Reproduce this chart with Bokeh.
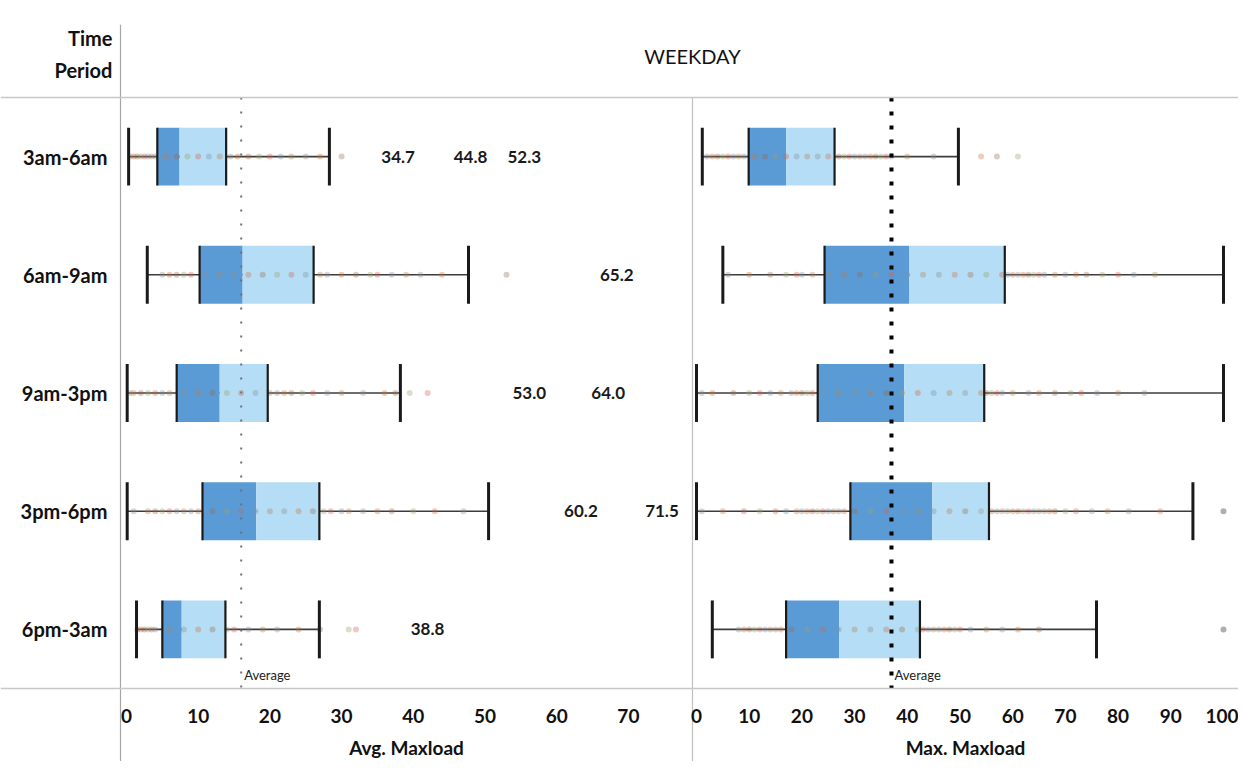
from bokeh.plotting import figure
from bokeh.models import (FactorRange, Range1d, LinearAxis, CategoricalAxis,
                          FixedTicker, Span, ColumnDataSource)
from bokeh.core.properties import value
from bokeh.embed import file_html
from bokeh.resources import INLINE

# ---------------- data ----------------
periods = ["3am-6am", "6am-9am", "9am-3pm", "3pm-6pm", "6pm-3am"]

# Avg. Maxload box statistics
avg_min = [0.3, 2.9, 0.1, 0.1, 1.4]
avg_q1 = [4.3, 10.2, 7.0, 10.6, 5.0]
avg_med = [7.4, 16.2, 13.0, 18.1, 7.7]
avg_q3 = [13.9, 26.1, 19.7, 26.9, 13.8]
avg_max = [28.3, 47.7, 38.2, 50.5, 26.9]
avg_mean = 16.0
avg_ticks = [0, 10, 20, 30, 40, 50, 60, 70]

# labelled outlier values (Avg. Maxload)
avg_label_period = ["3am-6am", "3am-6am", "3am-6am", "6am-9am", "9am-3pm",
                    "9am-3pm", "3pm-6pm", "3pm-6pm", "6pm-3am"]
avg_label_value = [34.7, 44.8, 52.3, 65.2, 53.0, 64.0, 60.2, 71.5, 38.8]

# Max. Maxload box statistics
max_min = [1.1, 5.0, 0.0, 0.0, 3.0]
max_q1 = [9.9, 24.3, 23.0, 29.2, 17.0]
max_med = [17.0, 40.4, 39.4, 44.7, 27.1]
max_q3 = [26.2, 58.5, 54.6, 55.5, 42.4]
max_max = [49.7, 100.0, 100.0, 94.2, 75.9]
max_mean = 37.0
max_ticks = [0, 10, 20, 30, 40, 50, 60, 70, 80, 90, 100]
max_outlier_period = ["3pm-6pm", "6pm-3am"]
max_outlier_value = [100.0, 100.0]

# individual observations visible along each row
avg_pts_3am_6am = [0.5, 1, 1.5, 2, 2.5, 3, 3.5, 4, 5.5, 7, 8.5, 10, 11.5, 13,
                   14.5, 15.5, 17, 18.5, 20, 21.5, 23, 25, 27, 30]
avg_pts_6am_9am = [5, 6, 7, 8, 9, 11, 13, 15, 17, 19, 21, 23, 25, 27, 28, 30,
                   32, 34, 35, 37, 39, 41, 44, 53]
avg_pts_9am_3pm = [0.5, 1, 2, 3, 4, 5, 6, 8, 10, 12, 14, 16, 18, 20, 21, 22,
                   23, 24.5, 26, 28, 30, 33, 36, 37.5, 39.5, 42]
avg_pts_3pm_6pm = [1, 3, 4, 5, 6, 7, 8, 9, 10, 12, 14, 16, 18, 20, 22, 24, 26,
                   27.5, 28.5, 30, 31, 33, 35, 37, 40, 43, 47]
avg_pts_6pm_3am = [1.5, 2, 2.5, 3, 3.5, 4, 6, 8, 10, 12, 14, 15, 17, 19, 21,
                   24, 27, 31, 32]

max_pts_3am_6am = [2, 3, 4, 5, 6, 7, 8, 9, 11, 13, 15, 17, 19, 21, 23, 25, 27,
                   28, 29, 30, 31, 32, 33, 34, 35, 36, 37, 40, 45, 54, 57, 61]
max_pts_6am_9am = [6, 10, 14, 17, 19, 20, 22, 25, 28, 31, 34, 37, 40, 43, 46,
                   49, 52, 55, 58, 59, 60, 61, 62, 63, 64, 65, 66, 68, 70, 72,
                   74, 77, 80, 83, 87]
max_pts_9am_3pm = [1, 3, 7, 10, 12, 14, 16, 18, 19, 20, 21, 22, 24, 27, 30, 33,
                   36, 39, 42, 45, 48, 51, 54, 55, 56, 57, 58, 60, 63, 65, 68,
                   71, 73, 76, 80, 85]
max_pts_3pm_6pm = [1, 5, 9, 12, 15, 17, 19, 20, 21, 22, 23, 24, 25, 26, 27, 28,
                   30, 33, 36, 39, 42, 45, 48, 51, 54, 56, 57, 58, 59, 60, 61,
                   62, 63, 64, 65, 66, 67, 68, 70, 72, 75, 78, 82, 88]
max_pts_6pm_3am = [8, 9, 10, 11, 12, 13, 14, 15, 16, 18, 21, 24, 27, 30, 33,
                   36, 39, 42, 43, 44, 45, 46, 47, 48, 49, 50, 52, 55, 58, 61,
                   65]

# ---------------- layout / style constants ----------------
FONT = "Lato"
DARK_BLUE = "#5b9bd5"
LIGHT_BLUE = "#b5def6"
LEFT_RANGE = (-17.57, 155.09)    # Avg. Maxload units across the canvas
RIGHT_RANGE = (-132.07, 102.85)  # Max. Maxload units across the canvas
LEFT_EDGE = -0.84        # left panel border, in Avg. Maxload units
LEFT_PANEL_END = 78.94   # panel divider, in Avg. Maxload units
RIGHT_EDGE = -0.76       # panel divider, in Max. Maxload units
PAD = 0.6176             # header / footer room, in row units
DOT_COLORS = ["#8c8c8c", "#c8763c", "#9c6a4a", "#9aa06a", "#d0604f",
              "#7f8fa0", "#b08050"]

p = figure(width=1238, height=761,
           x_range=Range1d(*LEFT_RANGE),
           y_range=FactorRange(factors=periods[::-1], range_padding=PAD,
                               range_padding_units="absolute"),
           x_axis_type=None, y_axis_type=None,
           toolbar_location=None, output_backend="svg",
           min_border_left=0, min_border_right=0, min_border_top=24,
           min_border_bottom=0, outline_line_color=None, title=None)
p.extra_x_ranges = {"right": Range1d(*RIGHT_RANGE)}
p.background_fill_color = "white"
p.border_fill_color = "white"

# horizontal rules (top of rows, bottom of rows)
for loc in (0, len(periods)):
    p.add_layout(Span(location=loc, dimension="width", line_color="#c8c8c8",
                      line_width=1.5))

# panel divider
p.segment(x0=[RIGHT_EDGE], x1=[RIGHT_EDGE], y0=[(periods[0], 0.5)],
          y1=[(periods[-1], -0.5 - PAD - 0.2)], x_range_name="right",
          line_color="#c0c0c0", line_width=1.2)


def draw_panel(mins, q1s, meds, q3s, maxs, pts_lists, range_name):
    kw = {} if range_name is None else {"x_range_name": range_name}
    src = ColumnDataSource(dict(
        period=periods, mn=mins, q1=q1s, med=meds, q3=q3s, mx=maxs,
        top=[(c, 0.245) for c in periods], bot=[(c, -0.245) for c in periods]))
    # whisker line
    p.segment(x0="mn", x1="mx", y0="period", y1="period", source=src,
              line_color="#3c3c3c", line_width=1.6, **kw)
    # box halves
    p.hbar(y="period", left="q1", right="med", height=0.49, source=src,
           fill_color=DARK_BLUE, line_color=None, **kw)
    p.hbar(y="period", left="med", right="q3", height=0.49, source=src,
           fill_color=LIGHT_BLUE, line_color=None, **kw)
    # observations
    xs, ys, cs = [], [], []
    for per, pts in zip(periods, pts_lists):
        for i, v in enumerate(pts):
            xs.append(v)
            ys.append(per)
            cs.append(DOT_COLORS[i % len(DOT_COLORS)])
    p.scatter(x=xs, y=ys, color=cs, size=6, alpha=0.35, line_color=None, **kw)
    # box edges and whisker caps
    for col, w in (("q1", 2.2), ("q3", 2.2), ("mn", 3), ("mx", 3)):
        p.segment(x0=col, x1=col, y0="bot", y1="top", source=src,
                  line_color="#1a1a1a", line_width=w, **kw)


draw_panel(avg_min, avg_q1, avg_med, avg_q3, avg_max,
           [avg_pts_3am_6am, avg_pts_6am_9am, avg_pts_9am_3pm,
            avg_pts_3pm_6pm, avg_pts_6pm_3am], None)
draw_panel(max_min, max_q1, max_med, max_q3, max_max,
           [max_pts_3am_6am, max_pts_6am_9am, max_pts_9am_3pm,
            max_pts_3pm_6pm, max_pts_6pm_3am], "right")

# max outliers
p.scatter(x=max_outlier_value, y=max_outlier_period, x_range_name="right",
          size=6, color="#9a9a9a", alpha=0.8, line_color=None)

# outlier value labels
p.text(x=avg_label_value, y=avg_label_period,
       text=[f"{v:.1f}" for v in avg_label_value],
       text_font=value(FONT), text_font_size="17px", text_font_style="bold",
       text_color="#1a1a1a", text_align="left", text_baseline="middle",
       x_offset=6)

# average lines
p.segment(x0=[avg_mean], x1=[avg_mean], y0=[(periods[0], 0.5)],
          y1=[(periods[-1], -0.5)], line_color="#707070", line_width=2,
          line_dash="2 12")
p.segment(x0=[max_mean], x1=[max_mean], y0=[(periods[0], 0.5)],
          y1=[(periods[-1], -0.5)], line_color="#000000", line_width=4,
          line_dash="4 10", x_range_name="right")
for mean, rn in ((avg_mean, None), (max_mean, "right")):
    kw = {} if rn is None else {"x_range_name": rn}
    p.text(x=[mean], y=[(periods[-1], -0.39)], text=["Average"],
           text_font=value(FONT), text_font_size="13px", text_color="#222222",
           text_align="left", text_baseline="middle", x_offset=3, **kw)

# header
p.text(x=[RIGHT_EDGE], y=[(periods[0], 0.855)], text=["WEEKDAY"],
       x_range_name="right", text_font=value(FONT), text_font_size="20px",
       text_color="#111111", text_align="center", text_baseline="middle")
p.text(x=[LEFT_EDGE, LEFT_EDGE], y=[(periods[0], 1.0), (periods[0], 0.73)],
       text=["Time", "Period"], text_font=value(FONT), text_font_size="20px",
       text_font_style="bold", text_color="#111111", text_align="right",
       text_baseline="middle", x_offset=-8)

# axis titles
p.text(x=[(LEFT_EDGE + LEFT_PANEL_END) / 2], y=[(periods[-1], -1.0)],
       text=["Avg. Maxload"], text_font=value(FONT), text_font_size="19px",
       text_font_style="bold", text_color="#111111", text_align="center",
       text_baseline="middle")
p.text(x=[(RIGHT_EDGE + RIGHT_RANGE[1]) / 2], y=[(periods[-1], -1.0)],
       text=["Max. Maxload"], x_range_name="right", text_font=value(FONT),
       text_font_size="19px", text_font_style="bold", text_color="#111111",
       text_align="center", text_baseline="middle")

# axes
yax = CategoricalAxis(fixed_location=LEFT_EDGE, axis_line_color="#a6a6a6",
                      axis_line_width=1.2, major_tick_line_color=None,
                      minor_tick_line_color=None, major_label_standoff=7,
                      major_label_text_font=FONT,
                      major_label_text_font_size="20px",
                      major_label_text_font_style="bold",
                      major_label_text_color="#111111")
p.add_layout(yax, "left")

for ticks, rn in ((avg_ticks, "default"), (max_ticks, "right")):
    ax = LinearAxis(x_range_name=rn, ticker=FixedTicker(ticks=ticks),
                    fixed_location=0, axis_line_color=None,
                    major_tick_line_color=None, minor_tick_line_color=None,
                    major_label_standoff=15, major_label_text_font=FONT,
                    major_label_text_font_size="19px",
                    major_label_text_font_style="bold",
                    major_label_text_color="#111111")
    p.add_layout(ax, "below")

open("out.html", "w").write(file_html(p, INLINE))
